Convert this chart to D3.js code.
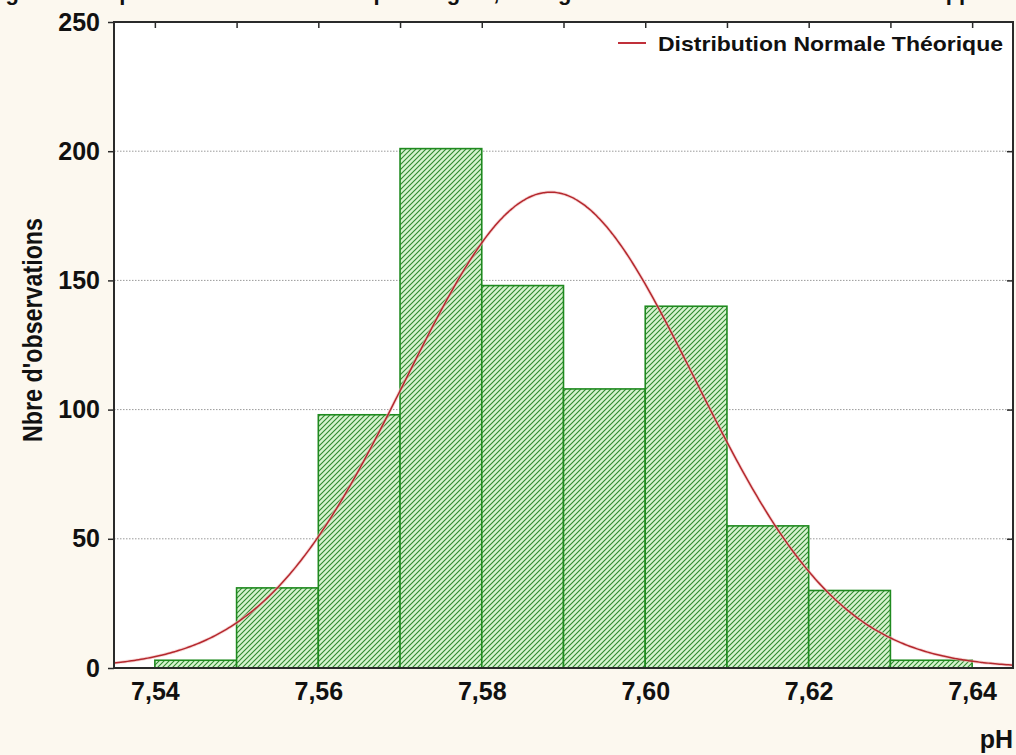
<!DOCTYPE html>
<html>
<head>
<meta charset="utf-8">
<script src="https://cdn.jsdelivr.net/npm/d3@7"></script>
<style>
  html, body { margin: 0; padding: 0; background: #fcf8ef; }
  svg { display: block; }
  .narrow { font-family: "Liberation Sans Narrow", "Arial Narrow", "Liberation Sans", Arial, sans-serif; font-weight: bold; }
  .wide { font-family: "Liberation Sans", Arial, sans-serif; font-weight: bold; }
</style>
</head>
<body>
<svg id="chart" width="1016" height="755"></svg>
<script>
// Histogram of pH values: class lower bounds and counts per class
const binStarts = [7.54, 7.55, 7.56, 7.57, 7.58, 7.59, 7.60, 7.61, 7.62, 7.63];
const binWidth = 0.01;
const counts = [3, 31, 98, 201, 148, 108, 140, 55, 30, 3];

// Parameters of the theoretical normal distribution
const normalMean = 7.5884;
const normalSd = 0.0177;

const xTicks = [7.54, 7.56, 7.58, 7.60, 7.62, 7.64];
const xMinorTicks = [7.54, 7.55, 7.56, 7.57, 7.58, 7.59, 7.60, 7.61, 7.62, 7.63, 7.64];
const yTicks = [0, 50, 100, 150, 200, 250];
const gridValues = [50, 100, 150, 200];

const xDomain = [7.535, 7.645];
const yDomain = [0, 250];

const legendLabel = "Distribution Normale Théorique";
const xTitle = "pH";
const yTitle = "Nbre d'observations";
const caption = "Figure 1 : Répartition des valeurs du pH sanguin, histogramme des effectifs et loi normale approchée (ajustement du pH sanguin)";

const W = 1016, H = 755;
const margin = { top: 22, right: 3, bottom: 87, left: 114 };
const iw = W - margin.left - margin.right;
const ih = H - margin.top - margin.bottom;

const svg = d3.select("#chart");
const fr = d3.formatLocale({ decimal: ",", thousands: " ", grouping: [3], currency: ["", " €"] });
const fmtX = fr.format(".2f");

const x = d3.scaleLinear().domain(xDomain).range([margin.left, margin.left + iw]);
const y = d3.scaleLinear().domain(yDomain).range([margin.top + ih, margin.top]);

// Caption line of the surrounding document, running off the top edge
svg.append("text")
  .attr("class", "wide")
  .attr("x", -14).attr("y", 0)
  .attr("font-size", 22)
  .attr("fill", "#111")
  .text(caption);

// Hatched fill for the bars
const defs = svg.append("defs");
const pat = defs.append("pattern")
  .attr("id", "hatch")
  .attr("patternUnits", "userSpaceOnUse")
  .attr("width", 5).attr("height", 5);
pat.append("rect").attr("width", 5).attr("height", 5).attr("fill", "#d6f3cf");
pat.append("path")
  .attr("d", "M-1,1 L1,-1 M0,5 L5,0 M4,6 L6,4")
  .attr("stroke", "#2f8a2f").attr("stroke-width", 1.1);

const clip = defs.append("clipPath").attr("id", "plotclip");
clip.append("rect").attr("x", margin.left).attr("y", margin.top).attr("width", iw).attr("height", ih);

// Plot background
svg.append("rect")
  .attr("x", margin.left).attr("y", margin.top)
  .attr("width", iw).attr("height", ih)
  .attr("fill", "#ffffff");

// Dotted horizontal grid
svg.append("g").selectAll("line").data(gridValues).join("line")
  .attr("x1", margin.left).attr("x2", margin.left + iw)
  .attr("y1", d => y(d)).attr("y2", d => y(d))
  .attr("stroke", "#9a9a9a").attr("stroke-width", 1)
  .attr("stroke-dasharray", "1.5,1.5");

// Bars
const bins = binStarts.map((s, i) => ({ x0: s, x1: s + binWidth, n: counts[i] }));
svg.append("g").selectAll("rect").data(bins).join("rect")
  .attr("x", d => x(d.x0))
  .attr("y", d => y(d.n))
  .attr("width", d => x(d.x1) - x(d.x0))
  .attr("height", d => y(0) - y(d.n))
  .attr("fill", "url(#hatch)")
  .attr("stroke", "#1f8a1f").attr("stroke-width", 1.6);

// Normal curve scaled to the histogram's total count
const N = d3.sum(counts);
const pdfScaled = v => N * binWidth / (normalSd * Math.sqrt(2 * Math.PI)) *
  Math.exp(-0.5 * ((v - normalMean) / normalSd) ** 2);
const xs = d3.range(xDomain[0], xDomain[1] + 1e-9, (xDomain[1] - xDomain[0]) / 400);
const line = d3.line().x(d => x(d)).y(d => y(pdfScaled(d))).curve(d3.curveMonotoneX);

svg.append("path")
  .datum(xs)
  .attr("clip-path", "url(#plotclip)")
  .attr("d", line)
  .attr("fill", "none")
  .attr("stroke", "#f2b8b8").attr("stroke-width", 3.2).attr("opacity", 0.6);
svg.append("path")
  .datum(xs)
  .attr("clip-path", "url(#plotclip)")
  .attr("d", line)
  .attr("fill", "none")
  .attr("stroke", "#b4282e").attr("stroke-width", 1.5);

// Frame
svg.append("rect")
  .attr("x", margin.left).attr("y", margin.top)
  .attr("width", iw).attr("height", ih)
  .attr("fill", "none")
  .attr("stroke", "#2a2a2a").attr("stroke-width", 2);

// Left axis (outside ticks) with labels
const yAxis = d3.axisLeft(y).tickValues(yTicks).tickSize(6).tickPadding(8).tickFormat(d3.format("d"));
const gy = svg.append("g").attr("transform", `translate(${margin.left},0)`).call(yAxis);
gy.select(".domain").remove();
gy.selectAll(".tick line").attr("stroke", "#2a2a2a").attr("stroke-width", 1.5);
gy.selectAll(".tick text")
  .attr("class", "narrow")
  .attr("font-size", 25)
  .attr("fill", "#111");

// Right side inward ticks
const yRight = d3.axisLeft(y).tickValues(yTicks.filter(v => v > 0 && v < 250)).tickSize(6).tickFormat("");
const gyr = svg.append("g").attr("transform", `translate(${margin.left + iw},0)`).call(yRight);
gyr.select(".domain").remove();
gyr.selectAll(".tick line").attr("stroke", "#2a2a2a").attr("stroke-width", 1.5);

// Top inward ticks
const xTop = d3.axisBottom(x).tickValues(xMinorTicks).tickSize(6).tickFormat("");
const gxt = svg.append("g").attr("transform", `translate(0,${margin.top})`).call(xTop);
gxt.select(".domain").remove();
gxt.selectAll(".tick line").attr("stroke", "#2a2a2a").attr("stroke-width", 1.5);

// Bottom axis labels
const xAxis = d3.axisBottom(x).tickValues(xTicks).tickSize(0).tickPadding(14).tickFormat(fmtX);
const gx = svg.append("g").attr("transform", `translate(0,${margin.top + ih})`).call(xAxis);
gx.select(".domain").remove();
gx.selectAll(".tick text")
  .attr("class", "narrow")
  .attr("font-size", 25)
  .attr("fill", "#111");

// Axis titles
svg.append("text")
  .attr("class", "narrow")
  .attr("font-size", 27)
  .attr("fill", "#111")
  .attr("text-anchor", "middle")
  .attr("textLength", 224)
  .attr("lengthAdjust", "spacingAndGlyphs")
  .attr("transform", `translate(42,330) rotate(-90)`)
  .text(yTitle);

svg.append("text")
  .attr("class", "narrow")
  .attr("font-size", 25)
  .attr("fill", "#111")
  .attr("text-anchor", "end")
  .attr("x", 1013).attr("y", 748)
  .text(xTitle);

// Legend
const lg = svg.append("g");
lg.append("line")
  .attr("x1", 618).attr("x2", 646).attr("y1", 43).attr("y2", 43)
  .attr("stroke", "#c0303a").attr("stroke-width", 2);
lg.append("text")
  .attr("class", "wide")
  .attr("font-size", 21)
  .attr("fill", "#111")
  .attr("x", 658).attr("y", 51)
  .attr("textLength", 345)
  .attr("lengthAdjust", "spacingAndGlyphs")
  .text(legendLabel);
</script>
</body>
</html>
